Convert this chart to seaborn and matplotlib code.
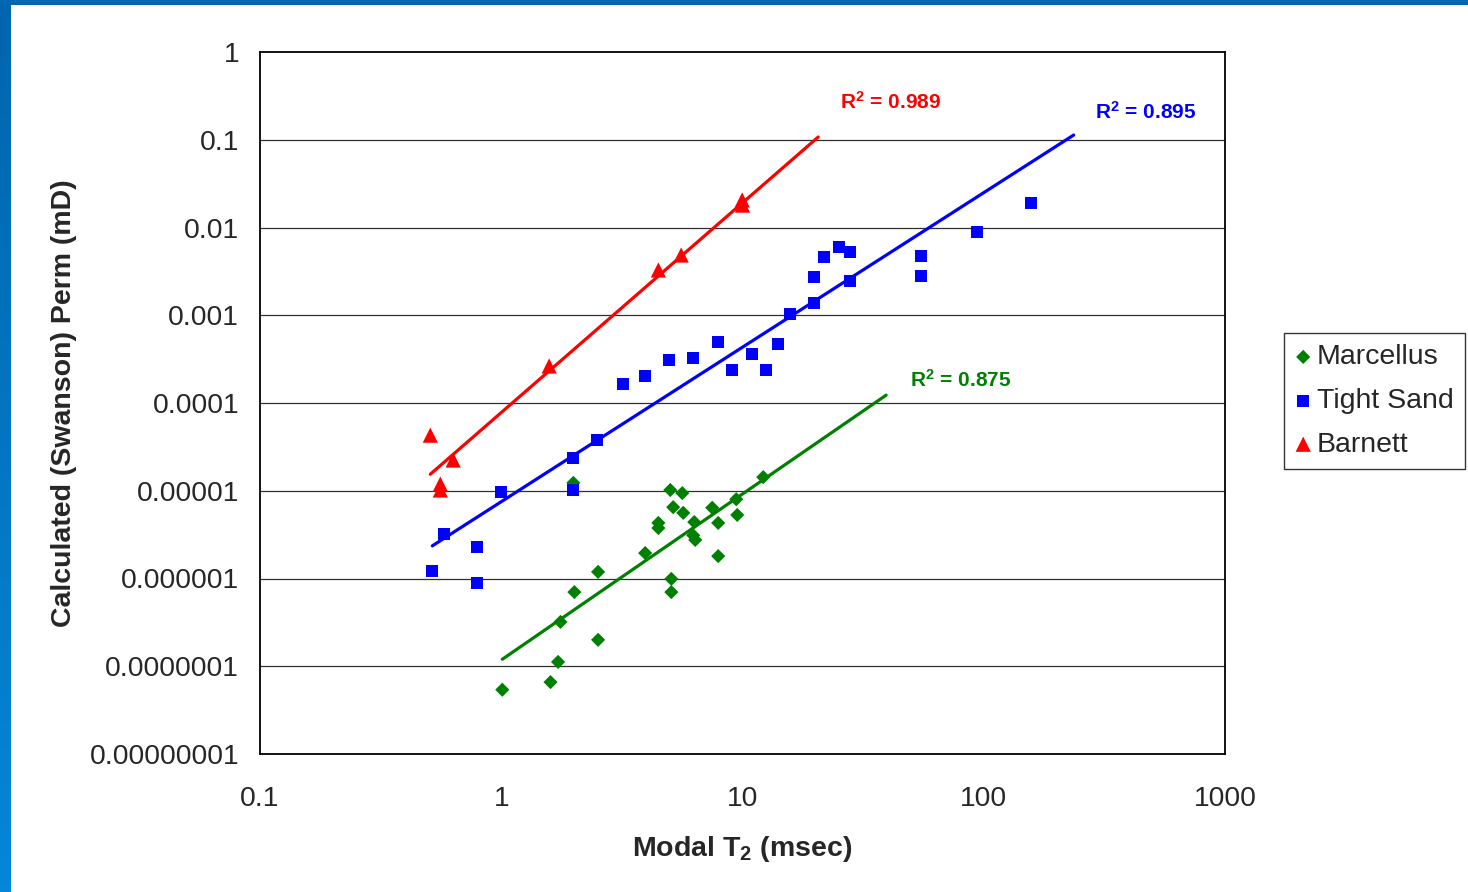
import numpy as np
import pandas as pd
import matplotlib.pyplot as plt
import seaborn as sns
from matplotlib.patches import Rectangle

# values: x = modal T2 (msec), y = Swanson perm (mD)
marcellus_t2 = [1.01, 1.60, 1.72, 1.76, 2.01, 1.99, 2.52, 2.52, 3.95, 4.48, 4.48, 5.02, 5.63,
                5.16, 5.68, 5.07, 5.07, 6.31, 6.25, 6.37, 7.49, 7.93, 7.93, 9.42, 9.51, 12.19]
marcellus_perm = [5.4e-8, 6.6e-8, 1.12e-7, 3.2e-7, 7.0e-7, 1.23e-5, 1.19e-6, 2.0e-7, 1.95e-6, 4.3e-6,
                  3.76e-6, 1.02e-5, 9.4e-6, 6.5e-6, 5.6e-6, 9.9e-7, 7.0e-7, 4.4e-6, 3.1e-6, 2.75e-6,
                  6.4e-6, 4.3e-6, 1.8e-6, 8.0e-6, 5.3e-6, 1.43e-5]

tight_t2 = [0.518, 0.581, 0.795, 0.795, 1.0, 1.99, 1.99, 2.50, 3.20, 3.95, 4.97, 6.25, 7.93, 9.07,
            10.98, 12.54, 14.07, 15.78, 19.83, 19.83, 21.83, 25.18, 27.97, 27.97, 55.1, 55.1, 94.0, 157.4]
tight_perm = [1.22e-6, 3.21e-6, 2.29e-6, 8.9e-7, 9.7e-6, 2.36e-5, 1.02e-5, 3.79e-5, 1.64e-4, 2.03e-4,
              3.09e-4, 3.26e-4, 4.96e-4, 2.38e-4, 3.62e-4, 2.38e-4, 4.70e-4, 1.03e-3, 1.38e-3, 2.73e-3,
              4.61e-3, 6.0e-3, 5.26e-3, 2.46e-3, 4.73e-3, 2.80e-3, 8.89e-3, 0.019]

barnett_t2 = [0.508, 0.559, 0.559, 0.632, 1.58, 4.48, 5.57, 9.97, 10.0]
barnett_perm = [4.3e-5, 1.19e-5, 1.02e-5, 2.24e-5, 2.64e-4, 3.28e-3, 4.86e-3, 0.0206, 0.018]

# power trendlines y = a * x^b as drawn on the chart, and the span each one covers
fit_names = ['Marcellus', 'Tight Sand', 'Barnett']
fit_a = [1.178e-7, 7.50e-6, 7.78e-5]
fit_b = [1.892, 1.761, 2.39]
fit_start = [1.01, 0.518, 0.508]
fit_end = [39.4, 236.0, 20.6]
r2_text = ['R$^2$ = 0.875', 'R$^2$ = 0.895', 'R$^2$ = 0.989']

x_ticks = [0.1, 1, 10, 100, 1000]
x_tick_labels = ['0.1', '1', '10', '100', '1000']
y_ticks = [1, 0.1, 0.01, 0.001, 0.0001, 0.00001, 0.000001, 0.0000001, 0.00000001]
y_tick_labels = ['1', '0.1', '0.01', '0.001', '0.0001', '0.00001', '0.000001', '0.0000001', '0.00000001']

colores = {'Marcellus': '#008000', 'Tight Sand': '#0000FF', 'Barnett': '#FF0000'}
marcadores = {'Marcellus': 'D', 'Tight Sand': 's', 'Barnett': '^'}
tamanos = {'Marcellus': 52, 'Tight Sand': 75, 'Barnett': 120}

df = pd.concat([
    pd.DataFrame({'t2': marcellus_t2, 'perm': marcellus_perm, 'serie': 'Marcellus'}),
    pd.DataFrame({'t2': tight_t2, 'perm': tight_perm, 'serie': 'Tight Sand'}),
    pd.DataFrame({'t2': barnett_t2, 'perm': barnett_perm, 'serie': 'Barnett'}),
], ignore_index=True)

sns.set_style('white')
plt.rcParams['font.family'] = ['Liberation Sans', 'DejaVu Sans']
plt.rcParams['mathtext.fontset'] = 'custom'
plt.rcParams['mathtext.rm'] = 'Liberation Sans:bold'
plt.rcParams['mathtext.it'] = 'Liberation Sans:bold'
plt.rcParams['mathtext.bf'] = 'Liberation Sans:bold'

fig = plt.figure(figsize=(14.68, 8.92), dpi=100)
ax = fig.add_axes([260 / 1468, 1 - 754 / 892, 965 / 1468, 702 / 892])

# slide frame (blue strips at the top and left)
franja = fig.add_axes([0, 0, 11 / 1468, 1])
franja.imshow(np.linspace(0, 1, 100).reshape(-1, 1), aspect='auto',
              cmap=sns.blend_palette(['#0066AE', '#0586D8'], as_cmap=True))
franja.axis('off')
fig.add_artist(Rectangle((0, 1 - 5 / 892), 1, 5 / 892, transform=fig.transFigure,
                         color='#0068B0', lw=0))

for nombre in ['Marcellus', 'Tight Sand', 'Barnett']:
    sns.scatterplot(data=df[df['serie'] == nombre], x='t2', y='perm', marker=marcadores[nombre],
                    s=tamanos[nombre], color=colores[nombre], edgecolor='none', linewidth=0,
                    label=nombre, ax=ax, zorder=3)

for nombre, a, b, x0, x1 in zip(fit_names, fit_a, fit_b, fit_start, fit_end):
    xs = np.geomspace(x0, x1, 50)
    ax.plot(xs, a * xs ** b, color=colores[nombre], lw=2.3, zorder=4)

ax.set_xscale('log')
ax.set_yscale('log')
ax.set_xlim(0.1, 1000)
ax.set_ylim(1e-8, 1)
ax.set_xticks(x_ticks)
ax.set_xticklabels(x_tick_labels)
ax.set_yticks(y_ticks)
ax.set_yticklabels(y_tick_labels)
ax.minorticks_off()
ax.tick_params(axis='both', direction='out', length=7, width=1, color='black', labelsize=20.3)
ax.tick_params(axis='y', pad=8)
ax.tick_params(axis='x', pad=16)
ax.grid(False)
for y in y_ticks[1:-1]:
    ax.axhline(y, color='#303030', lw=0.9, zorder=1)
for lado in ax.spines.values():
    lado.set_color('black')
    lado.set_linewidth(1.3)

ax.set_xlabel('Modal T$_2$ (msec)', fontsize=20.5, fontweight='bold')
ax.set_ylabel('Calculated (Swanson) Perm (mD)', fontsize=20.5, fontweight='bold')
ax.xaxis.set_label_coords(0.5, -0.114)
ax.yaxis.set_label_coords(-0.19, 0.5)

# R² labels next to each trendline
ax.text(0.601, 0.9288, r2_text[2], transform=ax.transAxes, color=colores['Barnett'],
        fontsize=15, fontweight='bold', va='center')
ax.text(0.8653, 0.9145, r2_text[1], transform=ax.transAxes, color=colores['Tight Sand'],
        fontsize=15, fontweight='bold', va='center')
ax.text(0.6736, 0.5328, r2_text[0], transform=ax.transAxes, color=colores['Marcellus'],
        fontsize=15, fontweight='bold', va='center')

leg = ax.legend(loc='upper left', bbox_to_anchor=(1284 / 1468, 1 - 333 / 892),
                bbox_transform=fig.transFigure, frameon=True, fancybox=False,
                edgecolor='black', fontsize=20.5, handletextpad=0.2, borderpad=0.4,
                labelspacing=0.62, handlelength=0.55, markerscale=1.0, borderaxespad=0)
leg.get_frame().set_linewidth(1.0)

fig.savefig('out.png', dpi=100)
